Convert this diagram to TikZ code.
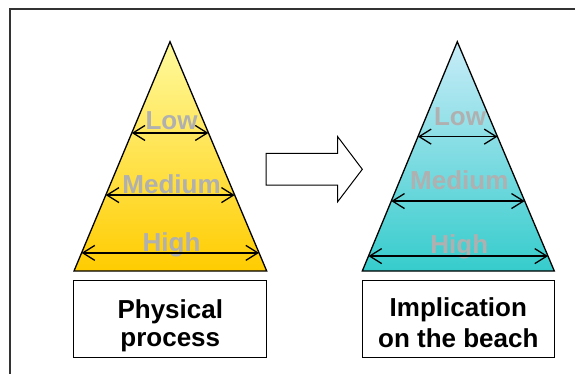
\documentclass[tikz,border=0pt]{standalone}
\usepackage{fontspec}
\setmainfont{Liberation Sans}
\usetikzlibrary{arrows.meta,calc}

\definecolor{sunTop}{HTML}{FFFA9E}
\definecolor{sunBot}{HTML}{FFCC00}
\definecolor{seaTop}{HTML}{C8ECF8}
\definecolor{seaBot}{HTML}{36CCCC}
\definecolor{levelGray}{HTML}{B0B0B0}
\definecolor{frameGray}{HTML}{333333}

\tikzset{
  pyramid/.style={draw=black, line width=1.3pt, line join=miter},
  level/.style={font=\bfseries\fontsize{26}{28}\selectfont, text=levelGray, inner sep=0pt, anchor=base},
  span/.style={line width=1.3pt, {Straight Barb[length=12pt,width=15pt,line width=1.3pt]}-{Straight Barb[length=12pt,width=15pt,line width=1.3pt]}},
  capbox/.style={draw=black, line width=1pt, fill=white, inner sep=0pt},
  captext/.style={font=\bfseries\fontsize{26}{28}\selectfont, text=black, inner sep=0pt, anchor=base},
  bigarrow/.style={draw=black, line width=1pt, fill=white, line join=miter}
}

\begin{document}
\begin{tikzpicture}[x=1pt,y=-1pt]
  \useasboundingbox (0,0) rectangle (575,373);
  \fill[white] (0,0) rectangle (575,373);

  % outer frame, running off the right and bottom edges
  \begin{scope}
    \clip (0,0) rectangle (575,373);
    \draw[frameGray, line width=1.5pt] (10,9) rectangle (620,420);
  \end{scope}

  % ---------- left pyramid: physical process ----------
  \coordinate (pA) at (170,41.7);
  \coordinate (pL) at (74,271);
  \coordinate (pR) at (266.7,271);
  \path[pyramid, top color=sunTop, bottom color=sunBot] (pA) -- (pL) -- (pR) -- cycle;

  \foreach \n/\t in {low/0.398, med/0.669, high/0.921}{
    \coordinate (p\n L) at ($(pA)!\t!(pL)$);
    \coordinate (p\n R) at ($(pA)!\t!(pR)$);
  }
  \node[level] (pLow)  at (171.5,129.5) {Low};
  \node[level] (pMed)  at (171.5,193.3) {Medium};
  \node[level] (pHigh) at (171.5,251)   {High};
  \draw[span] (plowL) -- (plowR);
  \draw[span] (pmedL) -- (pmedR);
  \draw[span] (phighL) -- (phighR);

  \node[capbox, minimum width=192.7pt, minimum height=76.7pt] (pBox) at (170.3,319.3) {};
  \node[captext] (pCap1) at (170.3,318.3) {Physical};
  \node[captext] (pCap2) at (170.3,346.5) {process};

  % ---------- block arrow ----------
  \coordinate (aS1) at (266,153.3);
  \coordinate (aS2) at (337.7,153.3);
  \coordinate (aH1) at (337.7,136.7);
  \coordinate (aTip) at (362.3,169.3);
  \coordinate (aH2) at (337.7,201.7);
  \coordinate (aS3) at (337.7,185);
  \coordinate (aS4) at (266,185);
  \path[bigarrow] (aS1) -- (aS2) -- (aH1) -- (aTip) -- (aH2) -- (aS3) -- (aS4) -- cycle;

  % ---------- right pyramid: implication on the beach ----------
  \coordinate (bA) at (457.3,41.7);
  \coordinate (bL) at (362.3,271);
  \coordinate (bR) at (554.3,271);
  \path[pyramid, top color=seaTop, bottom color=seaBot] (bA) -- (bL) -- (bR) -- cycle;

  \foreach \n/\t in {low/0.414, med/0.695, high/0.935}{
    \coordinate (b\n L) at ($(bA)!\t!(bL)$);
    \coordinate (b\n R) at ($(bA)!\t!(bR)$);
  }
  \node[level] (bLow)  at (460,125)   {Low};
  \node[level] (bMed)  at (459.3,189.3) {Medium};
  \node[level] (bHigh) at (459.3,253)   {High};
  \draw[span] (blowL) -- (blowR);
  \draw[span] (bmedL) -- (bmedR);
  \draw[span] (bhighL) -- (bhighR);

  \node[capbox, minimum width=192pt, minimum height=76.7pt] (bBox) at (458.3,319.3) {};
  \node[captext] (bCap1) at (458.3,316.7) {Implication};
  \node[captext] (bCap2) at (458.3,347.7) {on the beach};
\end{tikzpicture}
\end{document}
